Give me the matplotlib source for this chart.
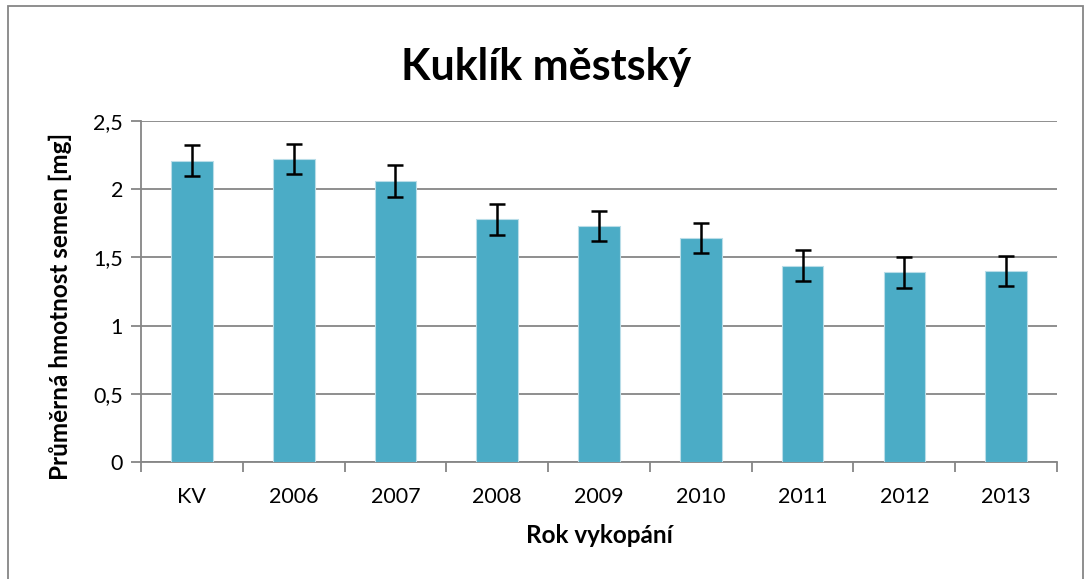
import numpy as np
import matplotlib.pyplot as plt
from matplotlib.patches import Rectangle

# ------------------------
# Data
# ------------------------

categories = ["KV", "2006", "2007", "2008", "2009", "2010", "2011", "2012", "2013"]
mean_mass = [2.21, 2.22, 2.06, 1.78, 1.73, 1.64, 1.44, 1.39, 1.40]
err = [0.112, 0.11, 0.114, 0.114, 0.112, 0.11, 0.111, 0.112, 0.111]
y_ticks = [0, 0.5, 1, 1.5, 2, 2.5]
y_tick_labels = ["0", "0,5", "1", "1,5", "2", "2,5"]

# ------------------------
# Plot
# ------------------------

plt.rcParams['font.family'] = ['Lato', 'DejaVu Sans']

fig = plt.figure(figsize=(10.92, 5.79), dpi=100)
ax = fig.add_axes([0.1291, 0.2021, 0.8389, 0.5889])

x = np.arange(len(categories))
ax.bar(x, mean_mass, width=0.41, color="#4BACC6", edgecolor="#B9DDE8",
       linewidth=0.8, zorder=3)
ax.errorbar(x, mean_mass, yerr=err, fmt="none", ecolor="black",
            elinewidth=1.8, capsize=6, capthick=1.8, zorder=4)

ax.set_xlim(-0.5, len(categories) - 0.5)
ax.set_ylim(0, 2.5)
ax.set_yticks(y_ticks)
ax.set_yticklabels(y_tick_labels, fontsize=15.5)
ax.set_xticks(x)
ax.set_xticklabels(categories, fontsize=15.5)
ax.tick_params(axis="x", length=0, pad=18)
ax.set_xticks(np.arange(-0.5, len(categories), 1), minor=True)
ax.tick_params(axis="x", which="minor", length=7, color="#868686", width=1.3)
ax.tick_params(axis="y", length=7, color="#868686", width=1.3, pad=6)

ax.yaxis.grid(True, color="#868686", linewidth=1.3, zorder=0)
for side in ["top", "right"]:
    ax.spines[side].set_visible(False)
for side in ["left", "bottom"]:
    ax.spines[side].set_color("#868686")
    ax.spines[side].set_linewidth(1.3)

ax.set_xlabel("Rok vykopání", fontsize=17.5, fontweight="bold", labelpad=12)
ax.set_ylabel("Průměrná hmotnost semen [mg]", fontsize=17.5, fontweight="bold")
ax.yaxis.set_label_coords(-0.075, 0.455)
fig.text(0.5, 0.885, "Kuklík městský", ha="center", va="center",
         fontsize=31, fontweight="bold")

# chart area border
fig.patches.append(Rectangle((0.007, -0.01), 0.985, 1.0, transform=fig.transFigure,
                             fill=False, edgecolor="#868686", linewidth=1.3))

fig.savefig("out.png", dpi=100)
